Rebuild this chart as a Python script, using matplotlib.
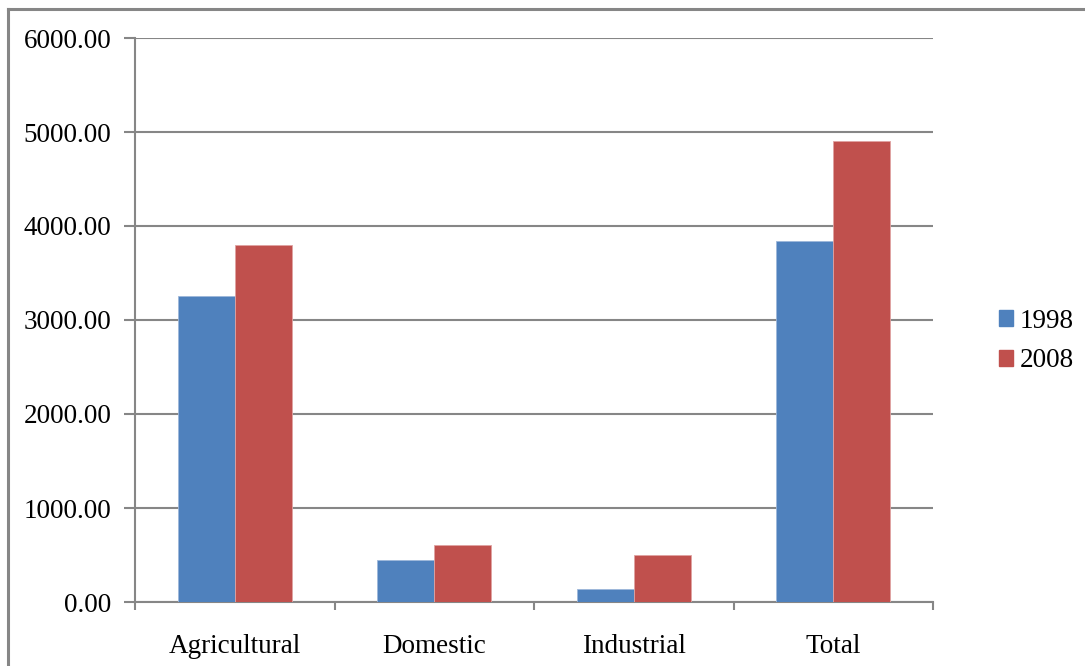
import numpy as np
import matplotlib; matplotlib.use("Agg")
import matplotlib.pyplot as plt
from matplotlib.lines import Line2D
from matplotlib.patches import Patch

categories = ["Agricultural", "Domestic", "Industrial", "Total"]
years = ["1998", "2008"]
vals_1998 = [3259, 450, 135, 3844]
vals_2008 = [3798, 603, 500, 4904]
yticks = [0, 1000, 2000, 3000, 4000, 5000, 6000]

blue, red, grey = "#4F81BD", "#C0504D", "#868686"
plt.rcParams["font.family"] = ["Liberation Serif", "DejaVu Serif"]
fs = 19.5

fig = plt.figure(figsize=(10.85, 6.66), dpi=100)
ax = fig.add_axes([135/1085, 1-602/666, (933-135)/1085, (602-38)/666])

x = np.arange(len(categories))
w = 0.286
ax.bar(x - w/2, vals_1998, w, color=blue, edgecolor="#9DB7DA", lw=0.6, zorder=3)
ax.bar(x + w/2, vals_2008, w, color=red, edgecolor="#E0A3A2", lw=0.6, zorder=3)

ax.set_xlim(-0.5, len(categories) - 0.5)
ax.set_ylim(0, 6000)
ax.set_yticks(yticks)
ax.set_yticklabels([f"{v:.2f}" for v in yticks], fontsize=fs)
ax.yaxis.grid(True, color=grey, lw=1.5, zorder=0)
ax.tick_params(axis="y", length=8, width=1.5, color=grey, pad=9)

# category separators as major ticks, names on minor ticks
ax.set_xticks(np.arange(len(categories) + 1) - 0.5)
ax.set_xticklabels([])
ax.tick_params(axis="x", which="major", length=6, width=1.5, color=grey)
ax.set_xticks(x, minor=True)
ax.set_xticklabels(categories, minor=True, fontsize=fs)
ax.tick_params(axis="x", which="minor", length=0, pad=23)

for s in ["top", "right"]:
    ax.spines[s].set_visible(False)
for s in ["left", "bottom"]:
    ax.spines[s].set_color(grey)
    ax.spines[s].set_linewidth(1.5)
ax.set_axisbelow(True)

handles = [Patch(color=blue), Patch(color=red)]
fig.legend(handles, years, loc="center left", bbox_to_anchor=(999/1085, 1-341/666),
           frameon=False, fontsize=fs, handlelength=0.52, handleheight=0.52,
           handletextpad=0.25, labelspacing=0.55, borderpad=0, borderaxespad=0)

# outer chart frame
fig.add_artist(Line2D([8/1085, 8/1085], [0, 1-9/666], color=grey, lw=2.2))
fig.add_artist(Line2D([8/1085, 1], [1-9/666, 1-9/666], color=grey, lw=2.2))

fig.savefig("out.png", dpi=100)
